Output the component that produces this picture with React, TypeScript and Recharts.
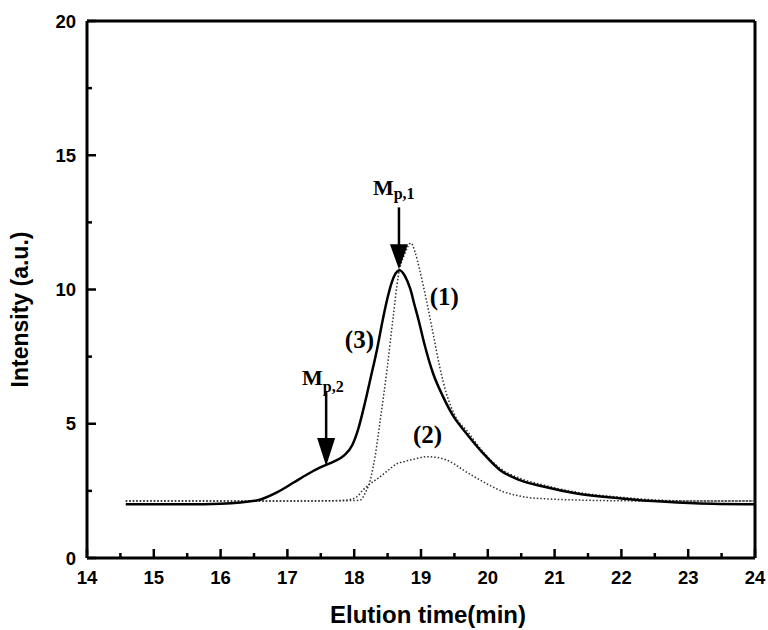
import { LineChart, Line, XAxis, YAxis, ReferenceLine, ReferenceDot, Label } from 'recharts'

// elution time (min) / intensity (a.u.)
const TIME_3 = [14.58, 15.0, 15.5, 16.0, 16.3, 16.6, 16.85, 17.1, 17.3, 17.5, 17.7, 17.85, 17.97, 18.06, 18.16, 18.25, 18.34, 18.43, 18.5, 18.56, 18.62, 18.68, 18.76, 18.84, 18.9, 18.97, 19.05, 19.18, 19.33, 19.48, 19.68, 19.93, 20.18, 20.48, 20.83, 21.33, 22.0, 22.6, 23.1, 24.0]
const INT_3 = [2.0, 2.0, 2.0, 2.02, 2.07, 2.18, 2.45, 2.82, 3.12, 3.38, 3.6, 3.82, 4.2, 4.8, 5.77, 6.75, 7.75, 8.9, 9.7, 10.25, 10.6, 10.72, 10.5, 10.02, 9.45, 8.8, 7.98, 6.88, 6.01, 5.3, 4.64, 3.9, 3.28, 2.9, 2.66, 2.4, 2.22, 2.1, 2.04, 2.0]

const TIME_1 = [14.58, 16.0, 17.0, 17.6, 18.0, 18.09, 18.17, 18.24, 18.32, 18.39, 18.49, 18.58, 18.66, 18.76, 18.85, 18.91, 18.98, 19.08, 19.18, 19.28, 19.38, 19.51, 19.7, 19.93, 20.18, 20.48, 20.83, 21.33, 22.0, 22.6, 23.2, 24.0]
const INT_1 = [2.12, 2.12, 2.12, 2.13, 2.14, 2.16, 2.45, 2.9, 3.9, 5.14, 7.0, 8.9, 10.5, 11.35, 11.73, 11.4, 10.73, 9.61, 8.37, 7.12, 6.13, 5.3, 4.7, 3.95, 3.35, 2.97, 2.72, 2.45, 2.26, 2.15, 2.12, 2.12]

const TIME_2 = [14.58, 16.0, 17.0, 17.6, 17.89, 18.04, 18.13, 18.26, 18.39, 18.5, 18.63, 18.76, 18.89, 19.09, 19.25, 19.38, 19.5, 19.63, 19.78, 19.93, 20.08, 20.23, 20.4, 20.58, 20.9, 21.33, 22.0, 23.0, 24.0]
const INT_2 = [2.12, 2.12, 2.12, 2.13, 2.16, 2.28, 2.53, 2.8, 3.03, 3.25, 3.5, 3.6, 3.68, 3.77, 3.74, 3.65, 3.5, 3.28, 3.05, 2.84, 2.64, 2.47, 2.35, 2.26, 2.2, 2.16, 2.13, 2.12, 2.12]

const X_TICKS = [14, 14.5, 15, 15.5, 16, 16.5, 17, 17.5, 18, 18.5, 19, 19.5, 20, 20.5, 21, 21.5, 22, 22.5, 23, 23.5, 24]
const Y_TICKS = [0, 2.5, 5, 7.5, 10, 12.5, 15, 17.5, 20]

const toRows = (xs: number[], ys: number[]) => xs.map((t, i) => ({ t, v: ys[i] }))

const SANS = 'Liberation Sans, Arial, sans-serif'
const SERIF = 'Liberation Serif, Times New Roman, serif'

const XTick = ({ x, y, payload }: any) => {
  const v = payload.value
  const major = Number.isInteger(v)
  return (
    <g>
      <line x1={x} x2={x} y1={y} y2={y - (major ? 9 : 5)} stroke="#000" strokeWidth={2.5} />
      {major && (
        <text x={x} y={y + 26} textAnchor="middle" fontFamily={SANS} fontWeight="bold" fontSize={18.5} fill="#000">
          {v}
        </text>
      )}
    </g>
  )
}

const YTick = ({ x, y, payload }: any) => {
  const v = payload.value
  const major = v % 5 === 0
  return (
    <g>
      <line x1={x} x2={x + (major ? 9 : 5)} y1={y} y2={y} stroke="#000" strokeWidth={2.5} />
      {major && (
        <text x={x - 11} y={y + 6.5} textAnchor="end" fontFamily={SANS} fontWeight="bold" fontSize={18.5} fill="#000">
          {v}
        </text>
      )}
    </g>
  )
}

const arrow = (shaft: number, head: number) => (p: any) => (
  <g>
    <line x1={p.cx} x2={p.cx} y1={p.cy - head - shaft} y2={p.cy - head + 2} stroke="#000" strokeWidth={2.5} />
    <polygon points={`${p.cx - 9},${p.cy - head} ${p.cx + 9},${p.cy - head} ${p.cx},${p.cy}`} fill="#000" />
  </g>
)

const tag = (main: string, sub?: string, drop = 5) => (p: any) => (
  <text x={p.cx} y={p.cy} fontFamily={SERIF} fontWeight="bold" fontSize={sub ? 22 : 25} fill="#000">
    {main}
    {sub && (
      <tspan fontSize={16} dy={drop}>
        {sub}
      </tspan>
    )}
  </text>
)

export default function App() {
  return (
    <div style={{ position: 'absolute', left: 0, top: 0, width: 768, height: 630, background: '#fff' }}>
      <LineChart width={768} height={630} margin={{ top: 21, right: 13, left: 0, bottom: 0 }}>
        <XAxis
          type="number"
          dataKey="t"
          domain={[14, 24]}
          ticks={X_TICKS}
          interval={0}
          height={72}
          tickSize={0}
          tickMargin={0}
          tick={<XTick />}
          axisLine={{ stroke: '#000', strokeWidth: 3 }}
        >
          <Label
            content={({ viewBox }: any) => (
              <text
                x={viewBox.x + viewBox.width / 2 + 7}
                y={viewBox.y + 65}
                textAnchor="middle"
                fontFamily={SANS}
                fontWeight="bold"
                fontSize={24}
                fill="#000"
              >
                Elution time(min)
              </text>
            )}
          />
        </XAxis>
        <YAxis
          type="number"
          domain={[0, 20]}
          ticks={Y_TICKS}
          interval={0}
          width={87}
          tickSize={0}
          tickMargin={0}
          tick={<YTick />}
          axisLine={{ stroke: '#000', strokeWidth: 3 }}
          allowDataOverflow
        >
          <Label
            content={({ viewBox }: any) => {
              const cx = viewBox.x + 20
              const cy = viewBox.y + viewBox.height / 2 + 20
              return (
                <text
                  x={cx}
                  y={cy}
                  transform={`rotate(-90 ${cx} ${cy})`}
                  textAnchor="middle"
                  dominantBaseline="central"
                  fontFamily={SANS}
                  fontWeight="bold"
                  fontSize={23}
                  fill="#000"
                >
                  Intensity (a.u.)
                </text>
              )
            }}
          />
        </YAxis>
        <ReferenceLine y={20} stroke="#000" strokeWidth={3} />
        <ReferenceLine x={24} stroke="#000" strokeWidth={3} />

        <Line
          data={toRows(TIME_2, INT_2)}
          dataKey="v"
          type="monotone"
          stroke="#333"
          strokeWidth={1.5}
          strokeDasharray="1.5 2"
          dot={false}
          activeDot={false}
          isAnimationActive={false}
        />
        <Line
          data={toRows(TIME_1, INT_1)}
          dataKey="v"
          type="monotone"
          stroke="#333"
          strokeWidth={1.5}
          strokeDasharray="1.5 2"
          dot={false}
          activeDot={false}
          isAnimationActive={false}
        />
        <Line
          data={toRows(TIME_3, INT_3)}
          dataKey="v"
          type="monotone"
          stroke="#000"
          strokeWidth={2.5}
          dot={false}
          activeDot={false}
          isAnimationActive={false}
        />

        <ReferenceDot x={18.67} y={10.75} r={0} shape={arrow(37, 25)} />
        <ReferenceDot x={17.58} y={3.43} r={0} shape={arrow(46, 28)} />
        <ReferenceDot x={18.28} y={13.52} r={0} shape={tag('M', 'p,1', 4)} />
        <ReferenceDot x={17.22} y={6.44} r={0} shape={tag('M', 'p,2', 7)} />
        <ReferenceDot x={19.13} y={9.42} r={0} shape={tag('(1)')} />
        <ReferenceDot x={17.86} y={7.82} r={0} shape={tag('(3)')} />
        <ReferenceDot x={18.88} y={4.28} r={0} shape={tag('(2)')} />
      </LineChart>
    </div>
  )
}
